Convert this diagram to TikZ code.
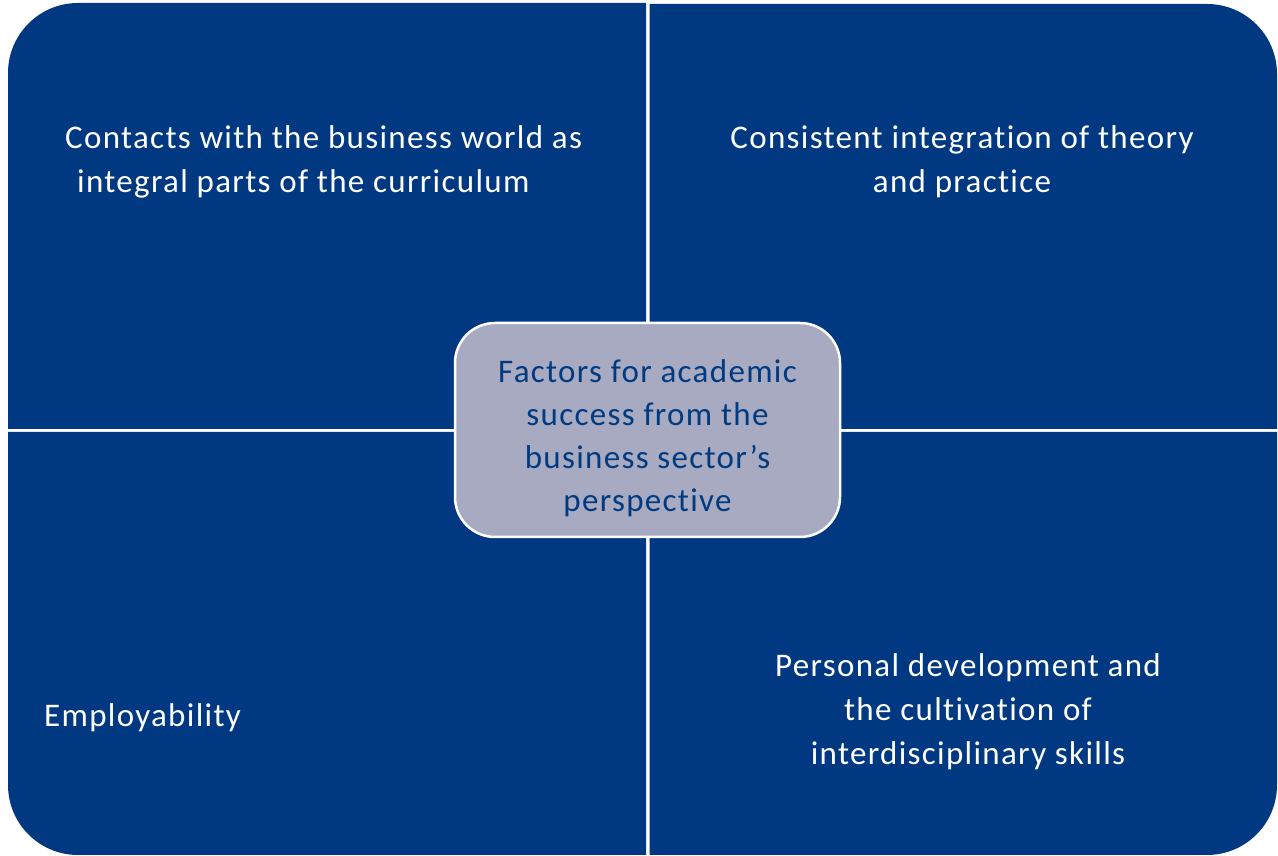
\documentclass[tikz,border=0pt]{standalone}
\usepackage{fontspec}
\setmainfont{Carlito}[Ligatures=NoCommon,LetterSpace=4]
\definecolor{quadblue}{RGB}{0,57,129}
\definecolor{centerfill}{RGB}{168,170,193}
\definecolor{centertext}{RGB}{0,58,128}
\begin{document}
\begin{tikzpicture}[x=1pt,y=1pt,
  quad/.style={fill=quadblue},
  quadtext/.style={text=white,font=\fontsize{33}{44}\selectfont,align=center,inner sep=0pt},
  centerbox/.style={draw=white,line width=2.5pt,fill=centerfill,rounded corners=40pt,
    minimum width=385pt,minimum height=214pt},
  centertxt/.style={text=centertext,font=\fontsize{33}{43}\selectfont,align=center,inner sep=0pt}]
\useasboundingbox (0,0) rectangle (1278,856);
% quadrants
\fill[quad] (8,427) -- (8,783) arc[start angle=180,end angle=90,radius=70] -- (646,853) -- (646,427) -- cycle;
\fill[quad] (649.5,427) -- (649.5,852) -- (1207,852) arc[start angle=90,end angle=0,radius=70] -- (1277,427) -- cycle;
\fill[quad] (8,424) -- (8,71) arc[start angle=180,end angle=270,radius=70] -- (646,1) -- (646,424) -- cycle;
\fill[quad] (649.5,424) -- (649.5,1) -- (1207,1) arc[start angle=270,end angle=360,radius=70] -- (1277,424) -- cycle;
% texts
\node[quadtext,align=left,anchor=west] (tl) at (65,694) {Contacts with the business world as\\\hspace*{12pt}integral parts of the curriculum};
\node[quadtext] (tr) at (962,694) {Consistent integration of theory\\and practice};
\node[quadtext,anchor=west] (bl) at (44,138) {Employability};
\node[quadtext] (br) at (968,144) {Personal development and\\the cultivation of\\interdisciplinary skills};
% center
\node[centerbox] (c) at (647.5,426) {};
\node[centertxt] (ct) at (647.5,418) {Factors for academic\\success from the\\business sector’s\\perspective};
\end{tikzpicture}
\end{document}
